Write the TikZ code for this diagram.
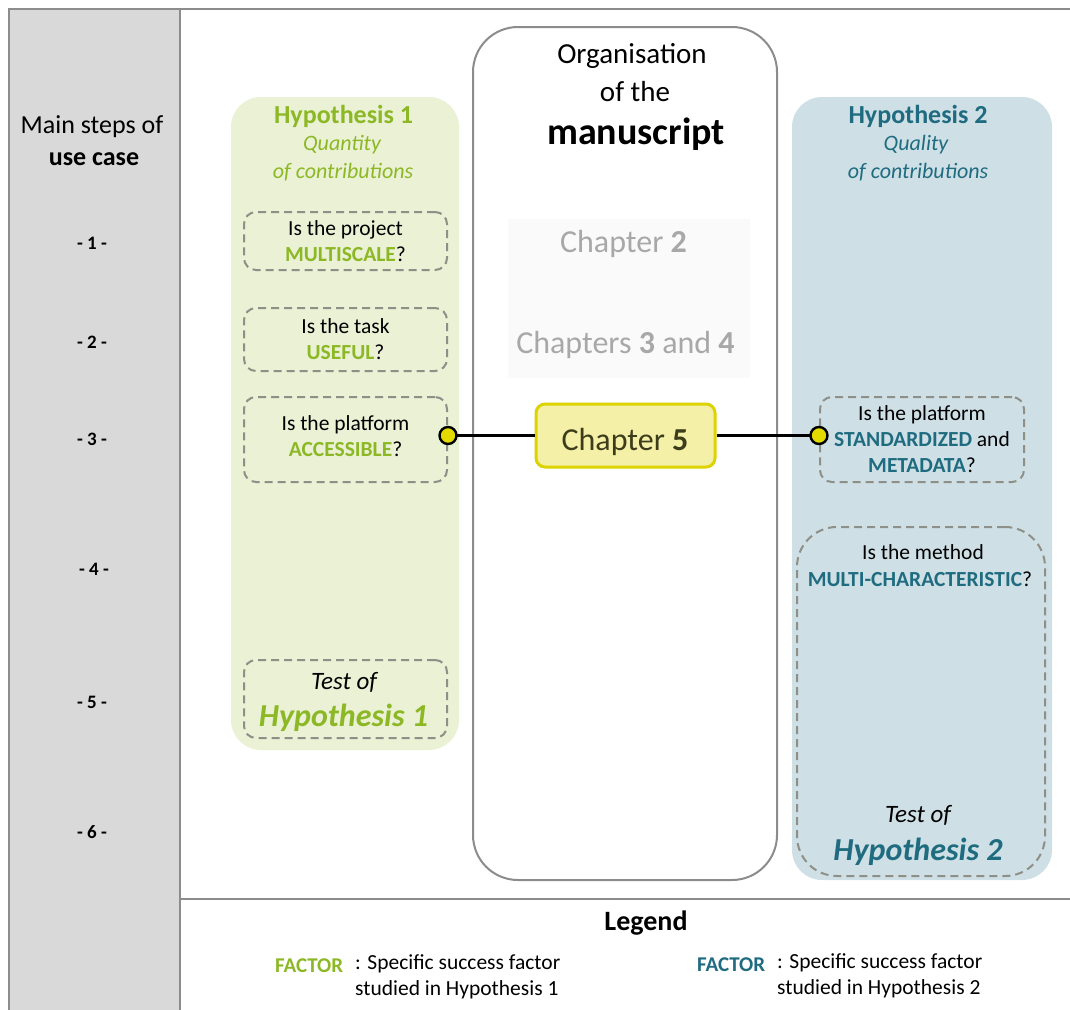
\documentclass[tikz,border=0pt]{standalone}
\usepackage{fontspec}
\setmainfont{Carlito}
\usetikzlibrary{calc}
\definecolor{hgreen}{HTML}{8DB825}
\definecolor{hteal}{HTML}{1F6B7F}
\definecolor{pgreen}{HTML}{EAF1D4}
\definecolor{pblue}{HTML}{CEE0E6}
\definecolor{colgray}{HTML}{D9D9D9}
\definecolor{framegray}{HTML}{8C8C8C}
\definecolor{dashgray}{HTML}{8E8F86}
\definecolor{chapgray}{HTML}{A8A8A8}
\definecolor{chfill}{HTML}{F4F0A8}
\definecolor{chborder}{HTML}{DCD300}
\definecolor{chtext}{HTML}{3D3D1C}
\definecolor{dotfill}{HTML}{E3DA00}
\newcommand\myfs[2]{\fontsize{#1}{#2}\selectfont}
\tikzset{
  panel/.style={draw=none, rounded corners=30pt, inner sep=0pt},
  qbox/.style={draw=dashgray, line width=2pt, dash pattern=on 8pt off 5pt, rounded corners=12pt,
    align=center, inner sep=0pt, font=\myfs{21.5}{26}},
  txt/.style={inner sep=0pt, align=center, yshift=-2pt},
  steplbl/.style={txt, font=\myfs{19}{22}\bfseries},
  conn/.style={line width=2.5pt, black},
  dot/.style={circle, fill=dotfill, draw=black, line width=2.4pt, minimum size=17pt, inner sep=0pt},
}
\begin{document}
\begin{tikzpicture}[x=1pt, y=-1pt]
\useasboundingbox (0,0) rectangle (1070,1009);
% frame
\fill[colgray] (9,9) rectangle (180,1012);
\draw[framegray, line width=2pt] (9,1012) -- (9,9) -- (1072,9);
\draw[framegray, line width=2pt] (180,9) -- (180,1012);
\draw[framegray, line width=2pt] (180,899) -- (1072,899);
% left column
\node[txt, font=\myfs{26}{32}] (ms1) at (92,125) {Main steps of};
\node[txt, font=\myfs{26}{32}\bfseries] (ms2) at (94,157) {use case};
\node[steplbl] (s1) at (92,241) {- 1 -};
\node[steplbl] (s2) at (92,340) {- 2 -};
\node[steplbl] (s3) at (92,437) {- 3 -};
\node[steplbl] (s4) at (94,567) {- 4 -};
\node[steplbl] (s5) at (92,700) {- 5 -};
\node[steplbl] (s6) at (92,830) {- 6 -};
% panels
\node[panel, fill=pgreen, minimum width=228pt, minimum height=653pt] (h1p) at (345,423.5) {};
\node[panel, fill=pblue, minimum width=260pt, minimum height=783pt] (h2p) at (922,488.5) {};
\node[panel, draw=framegray, line width=2pt, fill=white, rounded corners=45pt, minimum width=304pt, minimum height=853pt] (cp) at (625,453.5) {};
% hypothesis 1 header
\node[txt, font=\myfs{26}{30}\bfseries, text=hgreen] (h1t) at (343.5,114) {Hypothesis 1};
\node[txt, font=\myfs{22}{27}\itshape, text=hgreen] (h1q) at (342,143) {Quantity};
\node[txt, font=\myfs{22}{27}\itshape, text=hgreen] (h1c) at (343,170) {of contributions};
% hypothesis 2 header
\node[txt, font=\myfs{26}{30}\bfseries, text=hteal] (h2t) at (918,114) {Hypothesis 2};
\node[txt, font=\myfs{22}{27}\itshape, text=hteal] (h2q) at (916,143) {Quality};
\node[txt, font=\myfs{22}{27}\itshape, text=hteal] (h2c) at (918,170) {of contributions};
% center header
\node[txt, font=\myfs{29}{36}] (o1) at (632,54) {Organisation};
\node[txt, font=\myfs{29}{36}] (o2) at (635,90) {of the};
\node[txt, font=\myfs{38}{44}\bfseries] (o3) at (636,132) {manuscript};
% chapters 2-4
\node[fill=black!2, minimum width=242pt, minimum height=159pt, inner sep=0pt] (chg) at (629,298.5) {};
\node[txt, font=\myfs{32}{38}, text=chapgray] (ch2) at (623.5,242) {Chapter \textbf{2}};
\node[txt, font=\myfs{32}{38}, text=chapgray] (ch34) at (625.5,343) {Chapters \textbf{3} and \textbf{4}};
% chapter 5
\node[draw=chborder, fill=chfill, line width=3pt, rounded corners=9pt, minimum width=179pt, minimum height=63pt,
  inner sep=0pt] (ch5) at (625.5,435.5) {};
\node[txt, font=\myfs{32}{38}, text=chtext] (ch5t) at (625,440) {Chapter \textbf{5}};
% hypothesis 1 boxes
\node[qbox, minimum width=203pt, minimum height=58pt] (b1) at (345.5,241) {Is the project\\\textcolor{hgreen}{\textbf{MULTISCALE}}?};
\node[qbox, minimum width=203pt, minimum height=63pt] (b2) at (345.5,339.5) {Is the task\\\textcolor{hgreen}{\textbf{USEFUL}}?};
\node[qbox, minimum width=203pt, minimum height=85pt] (b3) at (345.5,439.5) {};
\node[txt, font=\myfs{21.5}{26}] (b3t) at (345.5,434) {Is the platform\\\textcolor{hgreen}{\textbf{ACCESSIBLE}}?};
\node[qbox, minimum width=203pt, minimum height=78pt] (b4) at (345.5,699) {};
\node[txt, font=\myfs{25}{30}\itshape] (b4a) at (344,680) {Test of};
\node[txt, font=\myfs{32}{38}\bfseries\itshape, text=hgreen] (b4b) at (343.5,716) {Hypothesis 1};
% hypothesis 2 boxes
\node[qbox, minimum width=204pt, minimum height=85pt] (b5) at (922,439.5) {Is the platform\\\textcolor{hteal}{\textbf{STANDARDIZED}} and\\\textcolor{hteal}{\textbf{METADATA}}?};
\node[qbox, rounded corners=40pt, minimum width=248pt, minimum height=349pt] (b6) at (921,701.5) {};
\node[txt, font=\myfs{21.5}{26}] (b6a) at (923,550) {Is the method};
\node[txt, font=\myfs{21.5}{26}] (b6b) at (920,577) {\textcolor{hteal}{\textbf{MULTI-CHARACTERISTIC}}?};
\node[txt, font=\myfs{25}{30}\itshape] (b6c) at (918,813) {Test of};
\node[txt, font=\myfs{32}{38}\bfseries\itshape, text=hteal] (b6d) at (918,850) {Hypothesis 2};
% connectors
\coordinate (cL) at (b3.east |- ch5.west);
\coordinate (cR) at (b5.west |- ch5.east);
\draw[conn] (cL) -- (ch5.west);
\draw[conn] (ch5.east) -- (cR);
\node[dot] (dL) at (cL) {};
\node[dot] (dR) at (cR) {};
% legend
\node[txt, font=\myfs{28}{34}\bfseries] (leg) at (646,921) {Legend};
\node[txt, anchor=west, font=\myfs{21}{26}\bfseries, text=hgreen] (f1) at (275,964) {FACTOR};
\node[txt, anchor=north west, align=left, font=\myfs{21.5}{26}] (f1t) at (355,952) {: Specific success factor\\studied in Hypothesis 1};
\node[txt, anchor=west, font=\myfs{21}{26}\bfseries, text=hteal] (f2) at (697,963) {FACTOR};
\node[txt, anchor=north west, align=left, font=\myfs{21.5}{26}] (f2t) at (777,951) {: Specific success factor\\studied in Hypothesis 2};
\end{tikzpicture}
\end{document}
